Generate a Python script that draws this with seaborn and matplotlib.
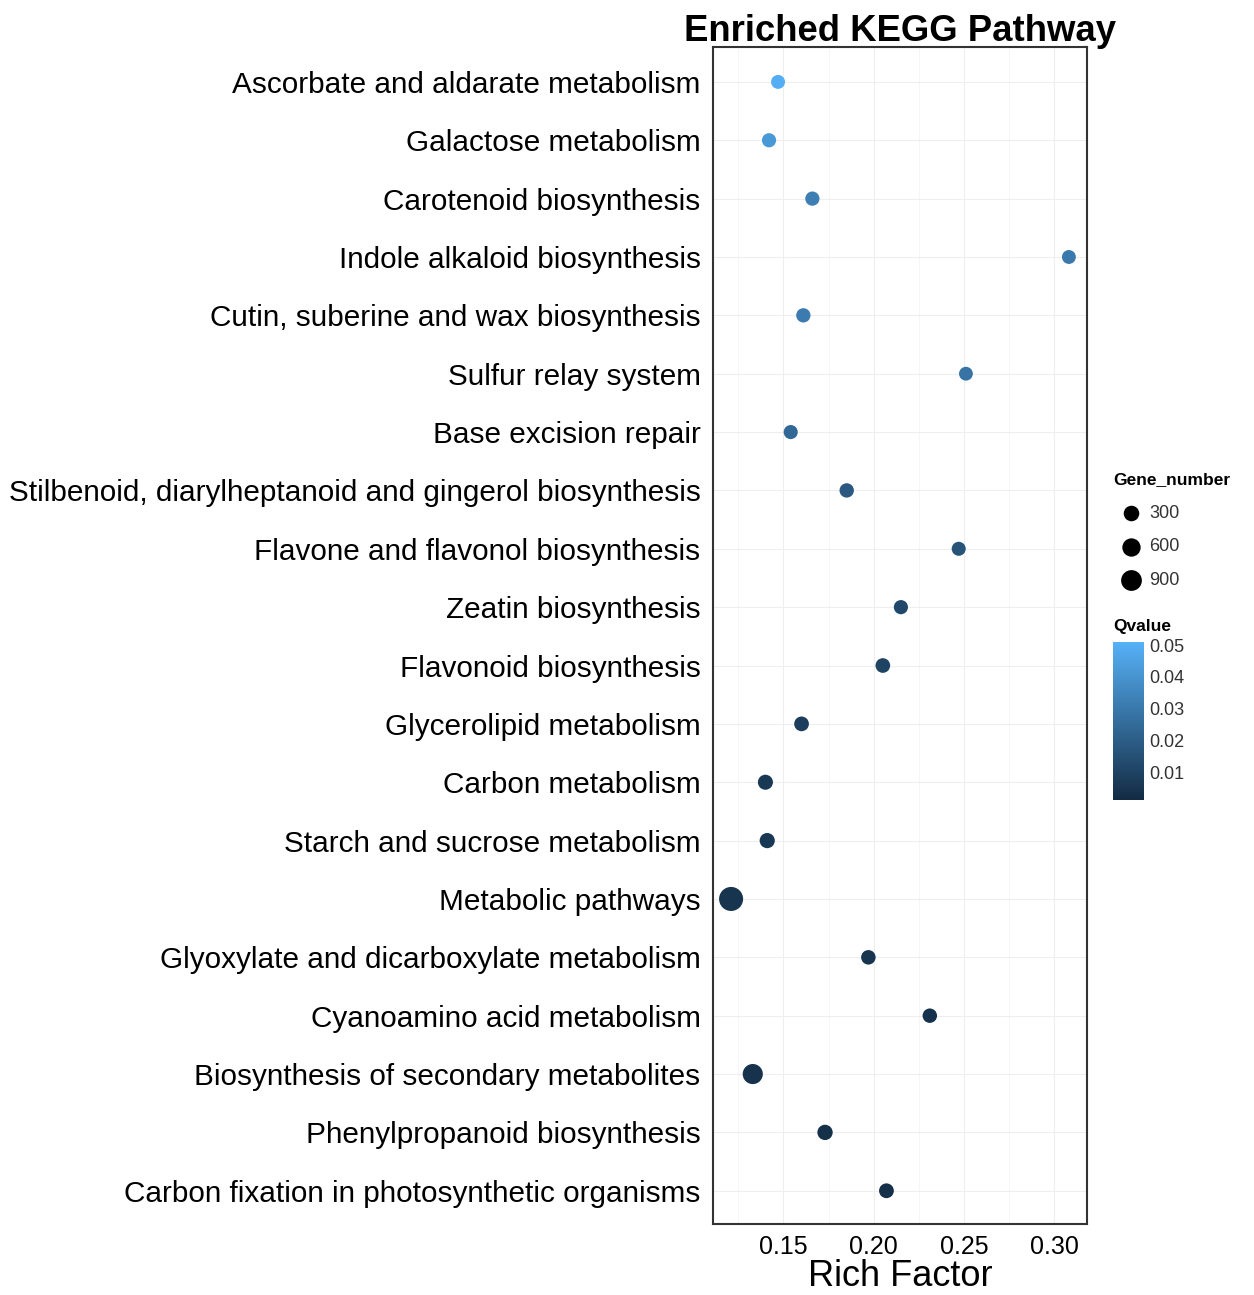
import numpy as np
import pandas as pd
import matplotlib
matplotlib.use("Agg")
import matplotlib.pyplot as plt
import seaborn as sns
from matplotlib.colors import LinearSegmentedColormap, Normalize
from matplotlib.ticker import MultipleLocator

# datos
pathways = [
    "Ascorbate and aldarate metabolism",
    "Galactose metabolism",
    "Carotenoid biosynthesis",
    "Indole alkaloid biosynthesis",
    "Cutin, suberine and wax biosynthesis",
    "Sulfur relay system",
    "Base excision repair",
    "Stilbenoid, diarylheptanoid and gingerol biosynthesis",
    "Flavone and flavonol biosynthesis",
    "Zeatin biosynthesis",
    "Flavonoid biosynthesis",
    "Glycerolipid metabolism",
    "Carbon metabolism",
    "Starch and sucrose metabolism",
    "Metabolic pathways",
    "Glyoxylate and dicarboxylate metabolism",
    "Cyanoamino acid metabolism",
    "Biosynthesis of secondary metabolites",
    "Phenylpropanoid biosynthesis",
    "Carbon fixation in photosynthetic organisms",
]
rich_factor = [0.147, 0.142, 0.166, 0.308, 0.161, 0.251, 0.154, 0.185, 0.247, 0.215,
               0.205, 0.160, 0.140, 0.141, 0.121, 0.197, 0.231, 0.133, 0.173, 0.207]
qvalue = [0.050, 0.042, 0.032, 0.030, 0.031, 0.028, 0.024, 0.018, 0.016, 0.012,
          0.010, 0.008, 0.006, 0.006, 0.005, 0.005, 0.004, 0.004, 0.003, 0.003]
gene_number = [30, 45, 50, 25, 55, 20, 40, 60, 35, 45,
               80, 85, 110, 120, 1010, 70, 65, 560, 130, 90]

df = pd.DataFrame({"Pathway": pathways, "RichFactor": rich_factor,
                   "Qvalue": qvalue, "Gene_number": gene_number})

cmap = LinearSegmentedColormap.from_list("gg", ["#132B43", "#56B1F7"])
qnorm = Normalize(vmin=0.0012, vmax=0.051)
size_norm = (0, 1000)
size_range = (95, 300)

sns.set_style("white")
plt.rcParams["font.family"] = ["Liberation Sans", "DejaVu Sans"]
plt.rcParams["text.color"] = "black"
plt.rcParams["axes.labelcolor"] = "black"

fig = plt.figure(figsize=(12.54, 12.95), dpi=100)
ax = fig.add_axes([0.5686, 0.0548, 0.2982, 0.909])

sns.scatterplot(data=df, x="RichFactor", y="Pathway", hue="Qvalue", hue_norm=qnorm,
                palette=cmap, size="Gene_number", sizes=size_range, size_norm=size_norm,
                linewidth=0, legend=False, ax=ax, zorder=3)

ax.set_ylim(len(pathways) - 0.43, -0.6)
ax.set_xlim(0.111, 0.318)
ax.xaxis.set_minor_locator(MultipleLocator(0.025))
ax.set_xticks([0.15, 0.20, 0.25, 0.30])
ax.set_xticklabels(["0.15", "0.20", "0.25", "0.30"])
ax.grid(True, which="major", color="#EEEEEE", lw=0.8)
ax.grid(True, which="minor", axis="x", color="#F5F5F5", lw=0.6)
ax.set_axisbelow(True)
for s in ax.spines.values():
    s.set_color("#333333")
    s.set_linewidth(1.5)
ax.tick_params(axis="both", which="major", length=5, width=1, color="#555555",
               labelsize=21.4, labelcolor="black", pad=4)
ax.tick_params(axis="x", labelsize=18, pad=3)
ax.tick_params(axis="x", which="minor", length=0)
ax.set_ylabel("")
ax.set_xlabel("Rich Factor", fontsize=26, labelpad=0, color="black")
ax.set_title("Enriched KEGG Pathway", fontsize=26.3, fontweight="bold", pad=4, color="black")

# leyenda de tamaño
fig.text(1113 / 1254, 1 - 480 / 1295, "Gene_number", fontsize=12.5, fontweight="bold",
         va="center", ha="left")
handles = []
for g in [300, 600, 900]:
    s = size_range[0] + (size_range[1] - size_range[0]) * (g - size_norm[0]) / (size_norm[1] - size_norm[0])
    handles.append(plt.scatter([], [], s=s * 0.8, color="black", linewidth=0))
leg = fig.legend(handles, ["300", "600", "900"], loc="upper left",
                 bbox_to_anchor=(1108 / 1254, 1 - 496 / 1295), frameon=False,
                 fontsize=13, labelspacing=0.9, handletextpad=0.2, borderpad=0,
                 handlelength=1.6)
for t in leg.get_texts():
    t.set_color("#333333")

# barra de color
cax = fig.add_axes([1113 / 1254, 1 - 800 / 1295, 31 / 1254, 158 / 1295])
sm = plt.cm.ScalarMappable(norm=qnorm, cmap=cmap)
cb = fig.colorbar(sm, cax=cax, ticks=[0.01, 0.02, 0.03, 0.04, 0.05])
cb.outline.set_visible(False)
cb.ax.tick_params(length=4, color="white", direction="in", left=True, right=True,
                  labelsize=13, labelcolor="#333333", pad=4)
cb.ax.set_yticklabels(["0.01", "0.02", "0.03", "0.04", "0.05"])
fig.text(1113 / 1254, 1 - 626 / 1295, "Qvalue", fontsize=12.5, fontweight="bold",
         va="center", ha="left")

fig.savefig("out.png", dpi=100)
